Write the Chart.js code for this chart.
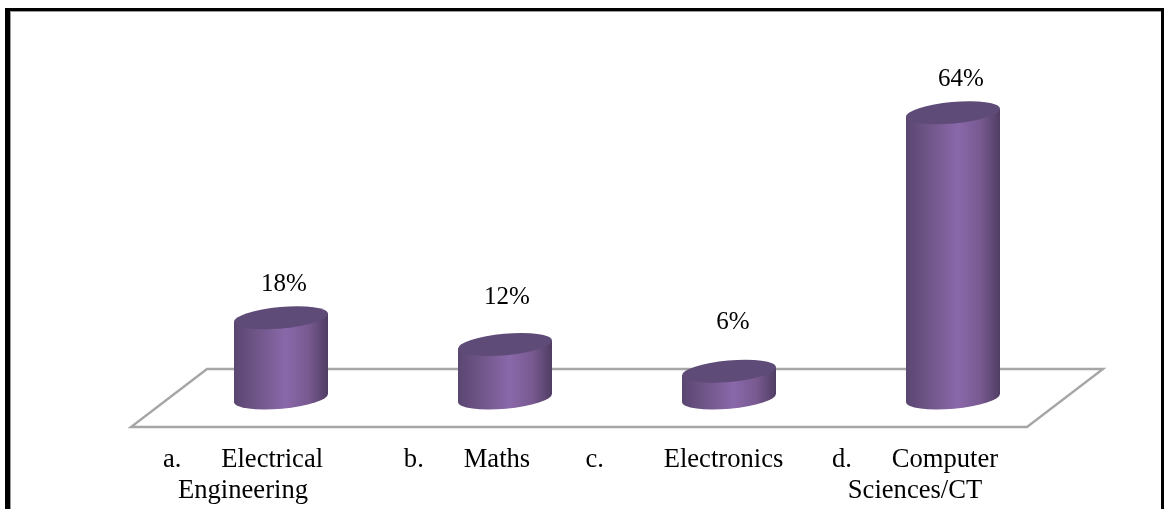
<!DOCTYPE html>
<html>
<head>
<meta charset="utf-8">
<style>
  html, body { margin: 0; padding: 0; background: #fff; overflow: hidden; }
  #wrap { position: relative; width: 1165px; height: 509px; }
  #frame {
    position: absolute; left: 5px; top: 8px; right: 1px; bottom: 0;
    border-style: solid; border-color: #000;
    border-width: 3px 3px 0 5px;
    box-shadow: inset 1px 1px 0 #9a9a9a;
    pointer-events: none;
  }
  canvas { position: absolute; left: 0; top: 0; }
</style>
<script src="https://cdn.jsdelivr.net/npm/chart.js@4"></script>
</head>
<body>
<div id="wrap">
  <canvas id="chart" width="1165" height="509"></canvas>
  <div id="frame"></div>
</div>
<script>
// Share of respondents per subject area
const categories = [
  ["a.      Electrical", "Engineering"],
  ["b.      Maths"],
  ["c.         Electronics  "],
  ["d.      Computer", "Sciences/CT"]
];
const shares = [18, 12, 6, 64];

// Vertical gap between each cylinder's lid and its percentage label
const labelLift = [15, 29, 31, 15];
const labelShift = [3, 2, 4, 8];

// Cylinder shape
const capTilt = -5.13 * Math.PI / 180;
const capRadiusX = 47.16;
const capRadiusY = 10.7;
const sideRise = 4;
const lidColor = "#5f4b78";

// Floor plane, sheared around the cylinders' base line
const floorDx = 38;
const floorDy = 29;
const floorColor = "#a6a6a6";

function bodyGradient(ctx, cx, halfWidth) {
  const g = ctx.createLinearGradient(cx - halfWidth, 0, cx + halfWidth, 0);
  g.addColorStop(0, "#5b4672");
  g.addColorStop(0.25, "#705689");
  g.addColorStop(0.55, "#8a68aa");
  g.addColorStop(0.8, "#77598f");
  g.addColorStop(1, "#4f3d63");
  return g;
}

function capPath(ctx, cx, cy) {
  ctx.beginPath();
  ctx.ellipse(cx, cy, capRadiusX, capRadiusY, capTilt, 0, Math.PI * 2);
  ctx.closePath();
}

function sidePath(ctx, bar) {
  const hw = bar.width / 2;
  ctx.moveTo(bar.x - hw, bar.y + sideRise);
  ctx.lineTo(bar.x + hw, bar.y - sideRise);
  ctx.lineTo(bar.x + hw, bar.base - sideRise);
  ctx.lineTo(bar.x - hw, bar.base + sideRise);
  ctx.closePath();
}

const cylinderPlugin = {
  id: "cylinders",
  beforeDatasetDraw(chart) {
    const ctx = chart.ctx;
    const bars = chart.getDatasetMeta(0).data;
    const area = chart.chartArea;
    const base = chart.scales.y.getPixelForValue(0);

    // floor outline behind the cylinders
    ctx.save();
    ctx.strokeStyle = floorColor;
    ctx.lineWidth = 2.4;
    ctx.lineJoin = "miter";
    ctx.beginPath();
    ctx.moveTo(area.left - floorDx, base + floorDy);
    ctx.lineTo(area.right - floorDx, base + floorDy);
    ctx.lineTo(area.right + floorDx, base - floorDy);
    ctx.lineTo(area.left + floorDx, base - floorDy);
    ctx.closePath();
    ctx.stroke();
    ctx.restore();

    // rounded bottoms and the slanted wedges beyond each bar's rectangle
    bars.forEach(bar => {
      ctx.fillStyle = bodyGradient(ctx, bar.x, bar.width / 2);
      capPath(ctx, bar.x, bar.base);
      ctx.fill();
      ctx.beginPath();
      sidePath(ctx, bar);
      ctx.fill();
    });

    // keep the bar fill inside the slanted cylinder sides
    ctx.save();
    ctx.beginPath();
    bars.forEach(bar => sidePath(ctx, bar));
    ctx.clip();
  },
  afterDatasetDraw(chart) {
    const ctx = chart.ctx;
    ctx.restore();
    const bars = chart.getDatasetMeta(0).data;

    // lids and percentage labels
    bars.forEach((bar, i) => {
      ctx.fillStyle = lidColor;
      capPath(ctx, bar.x, bar.y);
      ctx.fill();

      ctx.fillStyle = "#000";
      ctx.font = "25px 'Liberation Serif', serif";
      ctx.textAlign = "center";
      ctx.textBaseline = "alphabetic";
      const lidTop = bar.y - 11.5;
      ctx.fillText(shares[i] + "%", bar.x + labelShift[i], lidTop - labelLift[i]);
    });
  }
};

new Chart(document.getElementById("chart"), {
  type: "bar",
  data: {
    labels: categories,
    datasets: [{
      data: shares,
      barPercentage: 94 / 224,
      categoryPercentage: 1,
      borderWidth: 0,
      backgroundColor(c) {
        const cx = c.dataIndex === undefined ? NaN : c.chart.scales.x.getPixelForValue(c.dataIndex);
        return Number.isFinite(cx) ? bodyGradient(c.chart.ctx, cx, 47) : "#8a68aa";
      }
    }]
  },
  options: {
    responsive: false,
    animation: false,
    layout: { padding: { left: 169, right: 100, top: 86, bottom: 0 } },
    plugins: { legend: { display: false }, tooltip: { enabled: false } },
    scales: {
      x: {
        grid: { display: false },
        border: { display: false },
        afterFit(scale) { scale.height = 111; },
        ticks: {
          autoSkip: false,
          maxRotation: 0,
          minRotation: 0,
          labelOffset: -38,
          padding: 38,
          color: "#000",
          font: { family: "'Liberation Serif', serif", size: 26.6, lineHeight: 1.19 }
        }
      },
      y: { display: false, min: 0, max: 70 }
    }
  },
  plugins: [cylinderPlugin]
});
</script>
</body>
</html>
